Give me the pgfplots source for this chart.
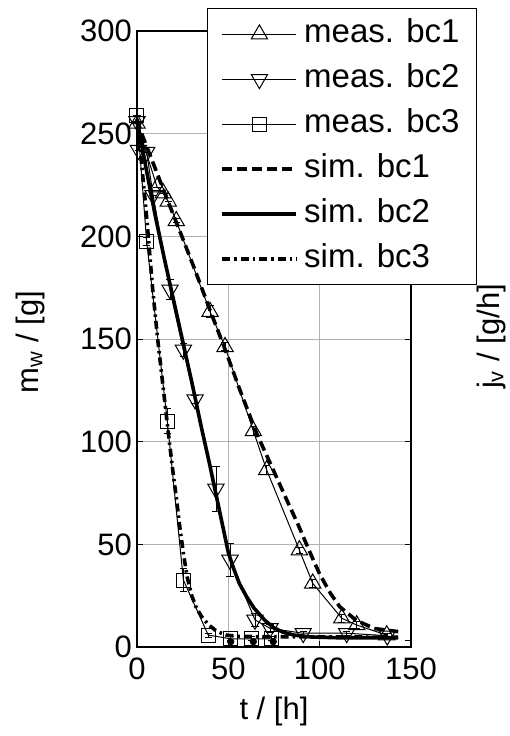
\documentclass[border=0pt]{standalone}
\usepackage{fontspec}
\setmainfont{Liberation Sans}
\usepackage{pgfplots}
\pgfplotsset{compat=1.18}
\begin{document}
\begin{tikzpicture}
\useasboundingbox (-68.5pt,-44.5pt) rectangle (186.5pt,323.5pt);
% right axis (j_v), drawn first so that the legend covers it
\begin{axis}[
  at={(0pt,0pt)}, anchor=south west,
  scale only axis, width=137pt, height=308pt,
  xmin=0, xmax=150, ymin=0, ymax=300,
  axis x line=none, axis y line*=right,
  axis line style={line width=0.8pt},
  ytick={3.4}, yticklabels={},
  tick align=inside, major tick length=3pt,
  tick style={black, line width=0.5pt},
  ylabel={j\textsubscript{v} / [g/h]},
  label style={font=\fontsize{15.5}{18}\selectfont},
  ylabel style={at={(axis description cs:1.292,0.504)}, anchor=center},
]
\addplot[draw=none] coordinates {(0,0)};
\end{axis}
\begin{axis}[
  at={(0pt,0pt)}, anchor=south west,
  scale only axis, width=137pt, height=308pt,
  xmin=0, xmax=150, ymin=0, ymax=300,
  clip=false,
  xtick={0,50,100,150}, ytick={0,50,...,300},
  tick align=inside, tick pos=both,
  major tick length=3pt,
  tick style={black, line width=0.5pt},
  grid=major, major grid style={black!30, line width=0.5pt},
  axis line style={line width=0.8pt},
  /pgf/number format/assume math mode=true,
  ticklabel style={font=\fontsize{15.5}{18}\selectfont},
  xticklabel style={yshift=-2pt},
  yticklabel style={xshift=1pt},
  xlabel={t / [h]}, ylabel={m\textsubscript{w} / [g]},
  label style={font=\fontsize{15.5}{18}\selectfont},
  xlabel style={at={(axis description cs:0.5,-0.0692)}, anchor=north},
  ylabel style={at={(axis description cs:-0.3905,0.495)}, anchor=center},
  legend cell align=left,
  legend style={at={(axis description cs:0.2555,1.0373)}, anchor=north west,
    draw=black, line width=0.6pt, fill=white,
    font=\fontsize{16.5}{19}\selectfont,
    inner xsep=6.5pt, inner ysep=3.3pt, row sep=3.5pt, column sep=1pt,
    nodes={inner sep=2pt, text height=11.5pt, text depth=3.5pt}},
  legend image code/.code={\draw[mark repeat=2,mark phase=2,#1] plot coordinates {(0pt,0pt) (18.5pt,0pt) (37pt,0pt)};},
]
% measured bc1
\addplot[black, line width=0.5pt, mark=triangle, mark size=4.7pt, mark options={solid,line width=0.5pt},
  error bars/.cd, y dir=both, y explicit, error mark options={rotate=90, mark size=1.8pt, line width=0.5pt}]
coordinates {
(0,255) +- (0,0)
(11,224) +- (0,0)
(14.4,221) +- (0,0)
(17.1,217) +- (0,0)
(21.5,207.5) +- (0,1)
(40,163.3) +- (0,3)
(48.2,146.2) +- (0,2)
(63.7,105.2) +- (0,2)
(71,86.2) +- (0,2)
(88.9,47.2) +- (0,1.5)
(96.2,31) +- (0,2)
(112.1,14) +- (0,2)
(120.3,10.7) +- (0,1.5)
(136.7,5.8) +- (0,1)
};
\addlegendentry{meas. bc1}
% measured bc2
\addplot[black, line width=0.5pt, mark=triangle, mark size=4.7pt, mark options={solid,rotate=180,line width=0.5pt},
  error bars/.cd, y dir=both, y explicit, error mark options={rotate=90, mark size=1.8pt, line width=0.5pt}]
coordinates {
(0,256) +- (0,0)
(0.8,242) +- (0,0)
(5.3,241) +- (0,0)
(8.8,220) +- (0,0)
(18.1,174) +- (0,5)
(25.4,144.7) +- (0,3)
(31.8,120.5) +- (0,2)
(43.2,77) +- (0,11)
(50.9,42.4) +- (0,8)
(64.6,13.2) +- (0,3)
(72.8,9.1) +- (0,2)
(91,6.7) +- (0,1)
(114.8,6.7) +- (0,1)
(137,5.5) +- (0,1)
};
\addlegendentry{meas. bc2}
% measured bc3
\addplot[black, line width=0.5pt, mark=square, mark size=3.5pt, mark options={solid,line width=0.5pt},
  error bars/.cd, y dir=both, y explicit, error mark options={rotate=90, mark size=1.8pt, line width=0.5pt}]
coordinates {
(0,259) +- (0,0)
(5.3,197.4) +- (0,2)
(16.6,110) +- (0,6)
(25.4,32.6) +- (0,5.5)
(39,5.8) +- (0,1)
(51.3,4) +- (0,1)
(62.8,4) +- (0,1)
(73.7,4) +- (0,1)
};
\addlegendentry{meas. bc3}
% simulated bc1
\addplot[black, line width=1.8pt, dash pattern=on 5pt off 2.5pt] coordinates {
(0,257) (3,249) (10,233) (17,217) (25,199) (32,183) (40,164) (48,145.5) (56,126)
(65.5,104) (73.7,88) (82,71.6) (88,60) (94,47.5) (100,35.5) (106,26) (111,19.6)
(120,13) (130,9) (143,7.5)
};
\addlegendentry{sim. bc1}
% simulated bc2
\addplot[black, line width=1.8pt] coordinates {
(0,257) (5,233) (10,210) (15,189) (20,169) (25,149) (30,129) (35,108) (40,88)
(45,67) (50,46) (53,38) (56,31) (60,24.5) (64,19) (70,13) (75,9.3) (80,7.2)
(86,5.8) (95,4.9) (110,4.5) (143,4.5)
};
\addlegendentry{sim. bc2}
% simulated bc3
\addplot[black, line width=1.8pt, dash pattern=on 4pt off 2pt on 1.2pt off 2pt] coordinates {
(0,257) (2,240) (4.4,218) (5.8,204) (8.5,175) (11.3,150) (14.5,125) (17.7,100)
(20,83) (21.7,71.6) (23.5,58) (25.5,45) (27.5,34) (30,25) (32.5,19) (35.4,14.8)
(39,11) (42.7,8.3) (46,6.8) (49,5.8) (55,5.2) (70,5) (143,4.8)
};
\addlegendentry{sim. bc3}
% filled dots near the bottom
\addplot[black, only marks, mark=*, mark size=1.6pt, forget plot] coordinates {
(51.3,2.6) (63.7,2.6) (74.6,2.6)
};
\end{axis}
\end{tikzpicture}
\end{document}
